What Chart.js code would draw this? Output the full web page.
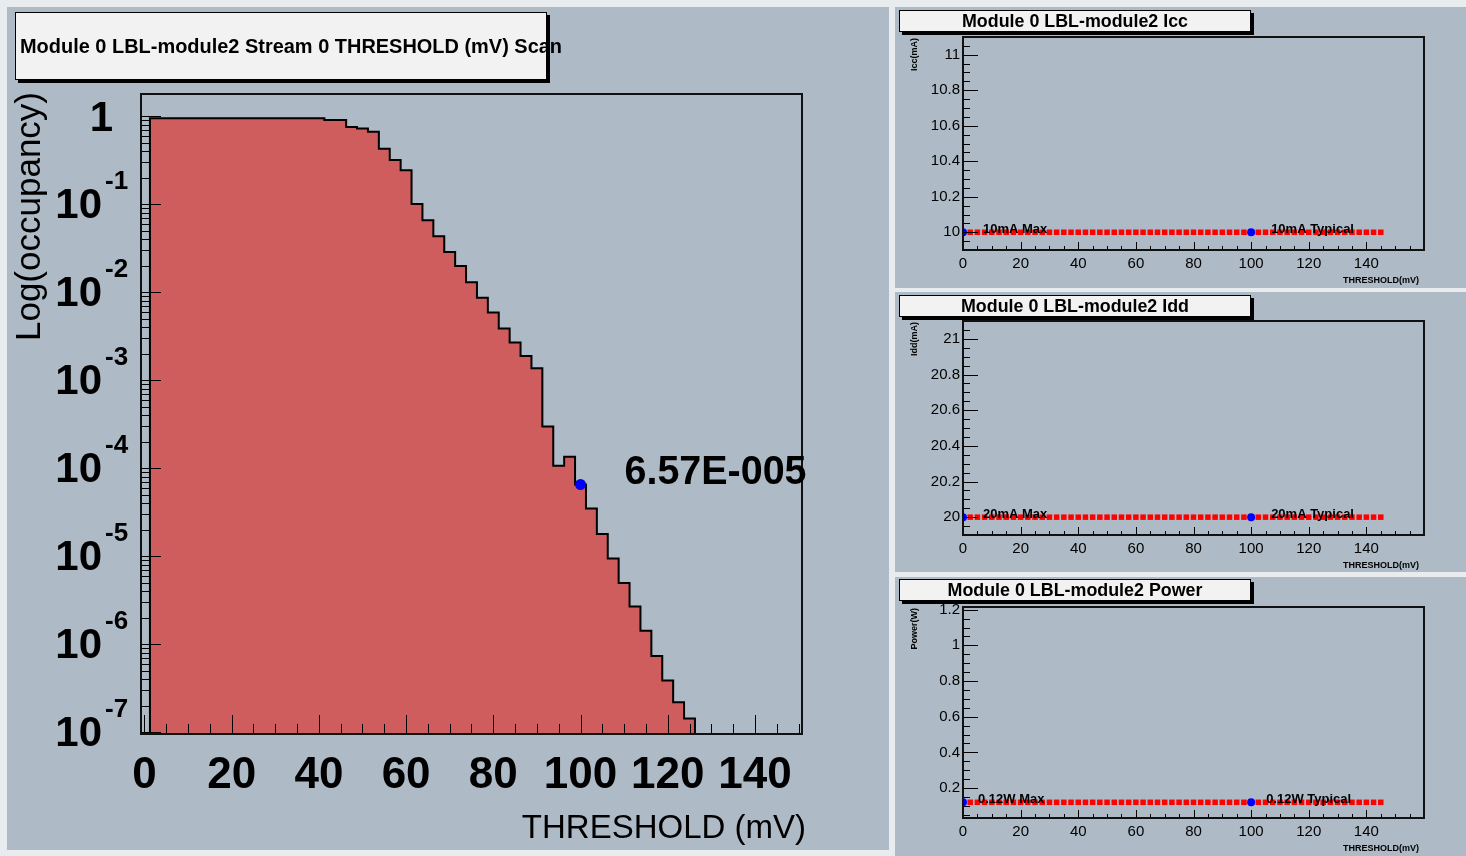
<!DOCTYPE html>
<html>
<head>
<meta charset="utf-8">
<title>Module 0 LBL-module2 THRESHOLD scan</title>
<script src="https://cdn.jsdelivr.net/npm/chart.js@4.4.1/dist/chart.umd.min.js"></script>
<style>
    html, body { margin: 0; padding: 0; }
    body { width: 1466px; height: 856px; position: relative; overflow: hidden; background: #e8ecef; }
    .pad { position: absolute; background: #aebbc6; }
    canvas { position: absolute; }
</style>
</head>
<body>
<div class="pad" style="left:7px;top:7px;width:882px;height:843px"></div>
<div class="pad" style="left:895px;top:7px;width:571px;height:281px"></div>
<div class="pad" style="left:895px;top:292px;width:571px;height:280px"></div>
<div class="pad" style="left:895px;top:577px;width:571px;height:279px"></div>
<canvas id="scanChart" width="892" height="856" style="left:0;top:0"></canvas>
<canvas id="iccChart" width="571" height="290" style="left:895px;top:0"></canvas>
<canvas id="iddChart" width="571" height="285" style="left:895px;top:290px"></canvas>
<canvas id="powerChart" width="571" height="281" style="left:895px;top:575px"></canvas>
<script>
const FONT = '"Liberation Sans", Arial, Helvetica, sans-serif';

// occupancy per threshold bin (2.5 mV wide, centred on the scan point)
const binCenters = [2.5, 5, 7.5, 10, 12.5, 15, 17.5, 20, 22.5, 25, 27.5, 30, 32.5, 35, 37.5, 40,
    42.5, 45, 47.5, 50, 52.5, 55, 57.5, 60, 62.5, 65, 67.5, 70, 72.5, 75, 77.5, 80, 82.5, 85, 87.5,
    90, 92.5, 95, 97.5, 100, 102.5, 105, 107.5, 110, 112.5, 115, 117.5, 120, 122.5, 125];
const occupancy = [0.954, 0.954, 0.954, 0.954, 0.954, 0.954, 0.954, 0.954, 0.954, 0.954, 0.954, 0.954, 0.954, 0.954, 0.954, 0.954,
    0.91, 0.91, 0.76, 0.73, 0.67, 0.43, 0.32, 0.245, 0.101, 0.066, 0.0435, 0.0289, 0.020, 0.0131, 0.0087, 0.0059, 0.0039, 0.0027, 0.0019,
    0.00138, 3.0e-4, 1.07e-4, 1.36e-4, 6.57e-5, 3.5e-5, 1.8e-5, 9.5e-6, 5.0e-6, 2.7e-6, 1.43e-6, 7.4e-7, 3.9e-7, 2.2e-7, 1.44e-7];
const binWidth = 2.5;

const markedThreshold = [100];
const markedOccupancy = [6.57e-5];

const scanXLabels = [0, 20, 40, 60, 80, 100, 120, 140];
const decadeExponents = [0, -1, -2, -3, -4, -5, -6, -7];

// supply monitoring during the scan
const scanThresholds = [0, 2.5, 5, 7.5, 10, 12.5, 15, 17.5, 20, 22.5, 25, 27.5, 30, 32.5, 35, 37.5, 40, 42.5, 45, 47.5,
    50, 52.5, 55, 57.5, 60, 62.5, 65, 67.5, 70, 72.5, 75, 77.5, 80, 82.5, 85, 87.5, 90, 92.5, 95, 97.5,
    100, 102.5, 105, 107.5, 110, 112.5, 115, 117.5, 120, 122.5, 125, 127.5, 130, 132.5, 135, 137.5, 140, 142.5, 145];
const iccValues = [10, 10, 10, 10, 10, 10, 10, 10, 10, 10, 10, 10, 10, 10, 10, 10, 10, 10, 10, 10,
    10, 10, 10, 10, 10, 10, 10, 10, 10, 10, 10, 10, 10, 10, 10, 10, 10, 10, 10, 10,
    10, 10, 10, 10, 10, 10, 10, 10, 10, 10, 10, 10, 10, 10, 10, 10, 10, 10, 10];
const iddValues = [20, 20, 20, 20, 20, 20, 20, 20, 20, 20, 20, 20, 20, 20, 20, 20, 20, 20, 20, 20,
    20, 20, 20, 20, 20, 20, 20, 20, 20, 20, 20, 20, 20, 20, 20, 20, 20, 20, 20, 20,
    20, 20, 20, 20, 20, 20, 20, 20, 20, 20, 20, 20, 20, 20, 20, 20, 20, 20, 20];
const powerValues = [0.12, 0.12, 0.12, 0.12, 0.12, 0.12, 0.12, 0.12, 0.12, 0.12, 0.12, 0.12, 0.12, 0.12, 0.12, 0.12, 0.12, 0.12, 0.12, 0.12,
    0.12, 0.12, 0.12, 0.12, 0.12, 0.12, 0.12, 0.12, 0.12, 0.12, 0.12, 0.12, 0.12, 0.12, 0.12, 0.12, 0.12, 0.12, 0.12, 0.12,
    0.12, 0.12, 0.12, 0.12, 0.12, 0.12, 0.12, 0.12, 0.12, 0.12, 0.12, 0.12, 0.12, 0.12, 0.12, 0.12, 0.12, 0.12, 0.12];

const specThresholds = [0, 100];
const iccSpec = [10, 10];
const iddSpec = [20, 20];
const powerSpec = [0.12, 0.12];
const iccSpecText = ["10mA Max", "10mA Typical"];
const iddSpecText = ["20mA Max", "20mA Typical"];
const powerSpecText = ["0.12W Max", "0.12W Typical"];

const panelXLabels = [0, 20, 40, 60, 80, 100, 120, 140];
const iccYLabels = [10, 10.2, 10.4, 10.6, 10.8, 11];
const iddYLabels = [20, 20.2, 20.4, 20.6, 20.8, 21];
const powerYLabels = [0.2, 0.4, 0.6, 0.8, 1, 1.2];

const Y_MIN = 9.6e-8;
const Y_MAX = 1.8;

function near(a, b) {
    return Math.abs(a - b) < 1e-6;
}

function linearTicks(min, max, step, majorStep) {
    const ticks = [];
    for (let i = Math.ceil(min / step - 1e-9); i * step <= max + 1e-9; i++) {
        const v = Math.round(i * step * 1e6) / 1e6;
        ticks.push({value: v, major: near(v / majorStep, Math.round(v / majorStep))});
    }
    return ticks;
}

function logTicks(min, max) {
    const ticks = [];
    for (let e = -9; e <= 1; e++) {
        for (let k = 1; k <= 9; k++) {
            const v = k * Math.pow(10, e);
            if (v >= min * 0.999 && v <= max) ticks.push({value: v, major: k === 1});
        }
    }
    return ticks;
}

// step outline of the histogram, closed down to the axis floor at both ends
function histogramOutline() {
    const half = binWidth / 2;
    const pts = [{x: binCenters[0] - half, y: Y_MIN}];
    binCenters.forEach((c, i) => pts.push({x: c - half, y: occupancy[i]}));
    pts.push({x: binCenters[binCenters.length - 1] + half, y: Y_MIN});
    return pts;
}

function rootExp(v) {
    const [m, e] = v.toExponential(2).split("e");
    const n = parseInt(e, 10);
    return m + "E" + (n < 0 ? "-" : "+") + String(Math.abs(n)).padStart(3, "0");
}

function drawTitleBox(ctx, box, text, font, align, textX, maxWidth) {
    ctx.save();
    ctx.fillStyle = "#000";
    ctx.fillRect(box.x + 3, box.y + 3, box.w, box.h);
    ctx.fillStyle = "#f2f2f2";
    ctx.fillRect(box.x, box.y, box.w, box.h);
    ctx.strokeStyle = "#000";
    ctx.lineWidth = 1;
    ctx.strokeRect(box.x + 0.5, box.y + 0.5, box.w - 1, box.h - 1);
    ctx.fillStyle = "#000";
    ctx.font = font;
    ctx.textAlign = align;
    ctx.textBaseline = "middle";
    ctx.fillText(text, textX, box.y + box.h / 2 + 1, maxWidth);
    ctx.restore();
}

// frame plus inward ticks, the way the analysis framework draws its axes
const rootAxes = {
    id: "rootAxes",
    afterDatasetsDraw(chart, args, o) {
        const {ctx, chartArea: a, scales: {x, y}} = chart;
        ctx.save();
        ctx.strokeStyle = "#000";
        ctx.lineWidth = 1;
        ctx.beginPath();
        x.ticks.forEach(t => {
            const px = Math.round(x.getPixelForValue(t.value)) + 0.5;
            ctx.moveTo(px, a.bottom);
            ctx.lineTo(px, a.bottom - (t.major ? o.xMajor : o.xMinor));
        });
        y.ticks.forEach(t => {
            const py = Math.round(y.getPixelForValue(t.value)) + 0.5;
            ctx.moveTo(a.left, py);
            ctx.lineTo(a.left + (t.major ? o.yMajor : o.yMinor), py);
        });
        ctx.stroke();
        ctx.lineWidth = 2;
        ctx.strokeStyle = "#111";
        ctx.strokeRect(a.left, a.top, a.right - a.left, a.bottom - a.top);
        ctx.restore();
    }
};

const scanText = {
    id: "scanText",
    afterDraw(chart) {
        const {ctx, chartArea: a, scales: {x, y}} = chart;
        drawTitleBox(ctx, {x: 15, y: 12, w: 532, h: 68},
            "Module 0 LBL-module2 Stream 0 THRESHOLD (mV) Scan",
            "bold 20px " + FONT, "left", 20, 542);

        ctx.save();
        ctx.fillStyle = "#000";
        ctx.textBaseline = "middle";
        // decade labels with superscript exponents
        decadeExponents.forEach(e => {
            const py = y.getPixelForValue(Math.pow(10, e));
            if (e === 0) {
                ctx.font = "bold 42px " + FONT;
                ctx.textAlign = "right";
                ctx.fillText("1", 113, py + 3);
            } else {
                ctx.font = "bold 42px " + FONT;
                ctx.textAlign = "right";
                ctx.fillText("10", 102, py + 2);
                ctx.font = "bold 26px " + FONT;
                ctx.textAlign = "left";
                ctx.fillText(String(e), 105, py - 23);
            }
        });

        // axis titles
        ctx.font = "33px " + FONT;
        ctx.textAlign = "right";
        ctx.fillText("THRESHOLD (mV)", a.right + 4, 829);
        ctx.save();
        ctx.font = "35px " + FONT;
        ctx.translate(30, a.top - 2);
        ctx.rotate(-Math.PI / 2);
        ctx.fillText("Log(occupancy)", 0, 0);
        ctx.restore();

        // value of the marked scan point
        ctx.font = "bold 40px " + FONT;
        ctx.textAlign = "left";
        markedThreshold.forEach((t, i) => {
            const px = x.getPixelForValue(t);
            const py = y.getPixelForValue(markedOccupancy[i]);
            ctx.fillText(rootExp(markedOccupancy[i]), px + 44, py - 12, 182);
        });
        ctx.restore();
    }
};

new Chart(document.getElementById("scanChart"), {
    type: "line",
    data: {
        datasets: [
            {
                type: "scatter",
                data: markedThreshold.map((t, i) => ({x: t, y: markedOccupancy[i]})),
                pointStyle: "circle",
                pointRadius: 5.5,
                backgroundColor: "#0000ff",
                borderWidth: 0,
                order: 0
            },
            {
                data: histogramOutline(),
                stepped: true,
                borderColor: "#000",
                borderWidth: 2,
                backgroundColor: "#cf5d5d",
                fill: "start",
                pointRadius: 0,
                order: 1
            }
        ]
    },
    options: {
        responsive: false,
        animation: false,
        events: [],
        layout: {padding: {left: 0, top: 94, right: 90, bottom: 0}},
        plugins: {
            legend: {display: false},
            tooltip: {enabled: false},
            rootAxes: {xMajor: 19, xMinor: 10, yMajor: 20, yMinor: 10}
        },
        scales: {
            x: {
                type: "linear",
                min: -0.8,
                max: 150.8,
                bounds: "data",
                grid: {display: false, drawTicks: false},
                border: {display: false},
                afterBuildTicks: s => { s.ticks = linearTicks(0, 150, 5, 20); },
                ticks: {
                    autoSkip: false,
                    maxRotation: 0,
                    padding: 15,
                    color: "#000",
                    font: {family: FONT, size: 44, weight: "bold"},
                    callback: v => scanXLabels.includes(v) ? String(v) : ""
                },
                afterFit: s => { s.height = 122; }
            },
            y: {
                type: "logarithmic",
                min: Y_MIN,
                max: Y_MAX,
                bounds: "data",
                grid: {display: false, drawTicks: false},
                border: {display: false},
                afterBuildTicks: s => { s.ticks = logTicks(Y_MIN, Y_MAX); },
                ticks: {display: false},
                afterFit: s => { s.width = 141; }
            }
        }
    },
    plugins: [rootAxes, scanText]
});

const panelText = {
    id: "panelText",
    afterDraw(chart, args, o) {
        const {ctx, chartArea: a, scales: {x, y}} = chart;
        drawTitleBox(ctx, {x: 4, y: o.boxY, w: 352, h: 22}, o.title,
            "bold 18px " + FONT, "center", 180, o.titleWidth);

        ctx.save();
        ctx.fillStyle = "#000";
        ctx.font = "bold 13px " + FONT;
        ctx.textAlign = "left";
        ctx.textBaseline = "alphabetic";
        specThresholds.forEach((t, i) => {
            ctx.fillText(o.specText[i], x.getPixelForValue(t) + o.labelDx, y.getPixelForValue(o.spec[i]) + 1);
        });

        ctx.font = "bold 9px " + FONT;
        ctx.textAlign = "right";
        ctx.textBaseline = "middle";
        ctx.fillText("THRESHOLD(mV)", a.right - 5, a.bottom + 31, 88);
        ctx.save();
        ctx.translate(20, a.top + 1);
        ctx.rotate(-Math.PI / 2);
        ctx.fillText(o.yTitle, 0, 0);
        ctx.restore();
        ctx.restore();
    }
};

function makePanel(id, cfg) {
    new Chart(document.getElementById(id), {
        type: "scatter",
        data: {
            datasets: [
                {
                    data: specThresholds.map((t, i) => ({x: t, y: cfg.spec[i]})),
                    pointStyle: "circle",
                    pointRadius: 4,
                    backgroundColor: "#0000ff",
                    borderWidth: 0,
                    order: 0
                },
                {
                    data: scanThresholds.map((t, i) => ({x: t, y: cfg.values[i]})),
                    pointStyle: "rect",
                    pointRadius: 3.9,
                    backgroundColor: "#ff0000",
                    borderWidth: 0,
                    order: 1
                }
            ]
        },
        options: {
            responsive: false,
            animation: false,
            events: [],
            layout: {padding: {left: 0, top: cfg.top, right: 42, bottom: 0}},
            plugins: {
                legend: {display: false},
                tooltip: {enabled: false},
                rootAxes: {xMajor: 8, xMinor: 4, yMajor: 15, yMinor: 7},
                panelText: {
                    title: cfg.title, titleWidth: cfg.titleWidth, boxY: cfg.boxY,
                    spec: cfg.spec, specText: cfg.specText, labelDx: cfg.labelDx, yTitle: cfg.yTitle
                }
            },
            scales: {
                x: {
                    type: "linear",
                    min: 0,
                    max: 160,
                    bounds: "data",
                    grid: {display: false, drawTicks: false},
                    border: {display: false},
                    afterBuildTicks: s => { s.ticks = linearTicks(0, 160, 5, 20); },
                    ticks: {
                        autoSkip: false,
                        maxRotation: 0,
                        padding: 5,
                        color: "#000",
                        font: {family: FONT, size: 15},
                        callback: v => panelXLabels.includes(v) ? String(v) : ""
                    },
                    afterFit: s => { s.height = cfg.bottomSpace; }
                },
                y: {
                    type: "linear",
                    min: cfg.min,
                    max: cfg.max,
                    bounds: "data",
                    grid: {display: false, drawTicks: false},
                    border: {display: false},
                    afterBuildTicks: s => { s.ticks = linearTicks(cfg.min, cfg.max, 0.05, 0.2); },
                    ticks: {
                        autoSkip: false,
                        padding: 3,
                        color: "#000",
                        font: {family: FONT, size: 15},
                        callback: v => cfg.yLabels.some(l => near(l, v)) ? String(Number(v.toFixed(2))) : ""
                    },
                    afterFit: s => { s.width = 68; }
                }
            }
        },
        plugins: [rootAxes, panelText]
    });
}

makePanel("iccChart", {
    title: "Module 0 LBL-module2 Icc", titleWidth: 226, boxY: 10, top: 37, bottomSpace: 40,
    min: 9.9, max: 11.1, values: iccValues, spec: iccSpec, specText: iccSpecText,
    labelDx: 20, yTitle: "Icc(mA)", yLabels: iccYLabels
});
makePanel("iddChart", {
    title: "Module 0 LBL-module2 Idd", titleWidth: 228, boxY: 5, top: 31, bottomSpace: 40,
    min: 19.9, max: 21.1, values: iddValues, spec: iddSpec, specText: iddSpecText,
    labelDx: 20, yTitle: "Idd(mA)", yLabels: iddYLabels
});
makePanel("powerChart", {
    title: "Module 0 LBL-module2 Power", titleWidth: 255, boxY: 4, top: 32, bottomSpace: 38,
    min: 0.032, max: 1.215, values: powerValues, spec: powerSpec, specText: powerSpecText,
    labelDx: 15, yTitle: "Power(W)", yLabels: powerYLabels
});
</script>
</body>
</html>
